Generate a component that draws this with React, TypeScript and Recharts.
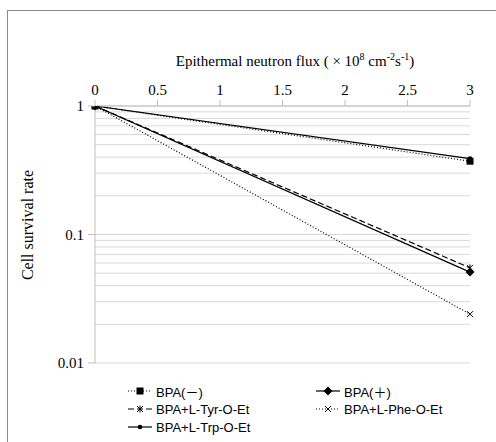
import { LineChart, Line, XAxis, YAxis, CartesianGrid } from 'recharts';

// flux (x 10^8 cm-2 s-1) and survival fractions
const flux = [0, 3];
const bpaMinus = [1, 0.372];
const bpaPlus = [1, 0.051];
const bpaTyr = [1, 0.055];
const bpaPhe = [1, 0.024];
const bpaTrp = [1, 0.39];

const xTicks = [0, 0.5, 1, 1.5, 2, 2.5, 3];
const yGrid = [
  0.01, 0.02, 0.03, 0.04, 0.05, 0.06, 0.07, 0.08, 0.09,
  0.1, 0.2, 0.3, 0.4, 0.5, 0.6, 0.7, 0.8, 0.9, 1,
];

const data = flux.map((x, i) => ({
  x,
  minus: bpaMinus[i],
  plus: bpaPlus[i],
  tyr: bpaTyr[i],
  phe: bpaPhe[i],
  trp: bpaTrp[i],
}));

const SERIF = "'Liberation Serif', 'Times New Roman', serif";

type Marker = 'square' | 'diamond' | 'star' | 'cross' | 'dot';

function drawMarker(kind: Marker, cx: number, cy: number, key?: string) {
  switch (kind) {
    case 'square':
      return <rect key={key} x={cx - 3.5} y={cy - 3.5} width={7} height={7} fill="#000" />;
    case 'diamond':
      return <polygon key={key} points={`${cx},${cy - 4.5} ${cx + 4.5},${cy} ${cx},${cy + 4.5} ${cx - 4.5},${cy}`} fill="#000" />;
    case 'star':
      return (
        <g key={key} stroke="#000" strokeWidth={1}>
          <line x1={cx - 3} y1={cy - 3} x2={cx + 3} y2={cy + 3} />
          <line x1={cx - 3} y1={cy + 3} x2={cx + 3} y2={cy - 3} />
          <line x1={cx} y1={cy - 3.5} x2={cx} y2={cy + 3.5} />
        </g>
      );
    case 'cross':
      return (
        <g key={key} stroke="#000" strokeWidth={1}>
          <line x1={cx - 3} y1={cy - 3} x2={cx + 3} y2={cy + 3} />
          <line x1={cx - 3} y1={cy + 3} x2={cx + 3} y2={cy - 3} />
        </g>
      );
    default:
      return <circle key={key} cx={cx} cy={cy} r={2.3} fill="#000" />;
  }
}

const series: Array<{ key: string; name: string; dash?: string; marker: Marker }> = [
  { key: 'phe', name: 'BPA+L-Phe-O-Et', dash: '1 2', marker: 'cross' },
  { key: 'tyr', name: 'BPA+L-Tyr-O-Et', dash: '6 3', marker: 'star' },
  { key: 'plus', name: 'BPA(＋)', marker: 'diamond' },
  { key: 'trp', name: 'BPA+L-Trp-O-Et', marker: 'dot' },
  { key: 'minus', name: 'BPA(－)', dash: '1 2', marker: 'square' },
];

const legendLayout: Array<{ key: string; left: number; top: number }> = [
  { key: 'minus', left: 128, top: 391 },
  { key: 'plus', left: 316, top: 391 },
  { key: 'tyr', left: 128, top: 409 },
  { key: 'phe', left: 316, top: 409 },
  { key: 'trp', left: 128, top: 427 },
];

function isDecade(v: number) {
  const l = Math.log10(v);
  return Math.abs(l - Math.round(l)) < 1e-9;
}

function YTick(props: any) {
  const { x, y, payload } = props;
  if (!isDecade(payload.value)) return null;
  return (
    <g>
      <line x1={x - 7} y1={y} x2={x} y2={y} stroke="#bfbfbf" />
      <text x={x - 11} y={y} dy={5} textAnchor="end" fontFamily={SERIF} fontSize={15} fill="#000">
        {String(payload.value)}
      </text>
    </g>
  );
}

function XTick(props: any) {
  const { x, payload } = props;
  return (
    <text x={x} y={95} textAnchor="middle" fontFamily={SERIF} fontSize={15} fill="#000">
      {String(payload.value)}
    </text>
  );
}

function XTitle() {
  return (
    <text x={295} y={66} textAnchor="middle" fontFamily={SERIF} fontSize={15} fill="#000">
      Epithermal neutron flux ( × 10
      <tspan fontSize={10} dy={-6}>8</tspan>
      <tspan dy={6}> cm</tspan>
      <tspan fontSize={10} dy={-6}>-2</tspan>
      <tspan dy={6}>s</tspan>
      <tspan fontSize={10} dy={-6}>-1</tspan>
      <tspan dy={6}>)</tspan>
    </text>
  );
}

function YTitle() {
  return (
    <text x={33} y={225} transform="rotate(-90 33 225)" textAnchor="middle" fontFamily={SERIF} fontSize={16} fill="#000">
      Cell survival rate
    </text>
  );
}

export default function App() {
  return (
    <div style={{ position: 'fixed', left: 0, top: 0, width: 496, height: 442, overflow: 'hidden', background: '#fff' }}>
      <div style={{ position: 'absolute', left: 7, top: 10, width: 600, height: 600, border: '1.5px solid #8a8a8a' }} />
      <div style={{ position: 'absolute', left: 0, top: 0 }}>
        <LineChart width={496} height={442} data={data} margin={{ top: 0, right: 26, bottom: 79, left: 0 }}>
          <CartesianGrid vertical={false} stroke="#d9d9d9" />
          <XAxis
            dataKey="x"
            type="number"
            orientation="top"
            domain={[0, 3]}
            ticks={xTicks}
            height={106}
            axisLine={{ stroke: '#bfbfbf' }}
            tickLine={{ stroke: '#bfbfbf' }}
            tickSize={6}
            tickMargin={3}
            tick={<XTick />}
            label={<XTitle />}
          />
          <YAxis
            type="number"
            scale="log"
            domain={[0.01, 1]}
            ticks={yGrid}
            allowDataOverflow
            width={95}
            interval={0}
            axisLine={{ stroke: '#bfbfbf' }}
            tickLine={false}
            tickSize={0}
            tickMargin={0}
            tick={<YTick />}
            label={<YTitle />}
          />
          {series.map((s) => (
            <Line
              key={s.key}
              dataKey={s.key}
              name={s.name}
              stroke="#000"
              strokeWidth={1.2}
              strokeDasharray={s.dash}
              isAnimationActive={false}
              dot={(p: any) => drawMarker(s.marker, p.cx, p.cy, `${s.key}-${p.index}`)}
              activeDot={false}
            />
          ))}
        </LineChart>
      </div>
      {legendLayout.map((l) => {
        const s = series.find((q) => q.key === l.key)!;
        return (
          <div
            key={l.key}
            style={{
              position: 'absolute',
              left: l.left,
              top: l.top - 9,
              height: 18,
              display: 'flex',
              alignItems: 'center',
              fontFamily: "'Liberation Sans', 'Noto Sans CJK JP', sans-serif",
              fontSize: 13,
              color: '#000',
              whiteSpace: 'nowrap',
            }}
          >
            <svg width={25} height={12} style={{ marginRight: 3 }}>
              <line x1={0} y1={6} x2={24} y2={6} stroke="#000" strokeWidth={1.2} strokeDasharray={s.dash} />
              {drawMarker(s.marker, 12, 6)}
            </svg>
            {s.name}
          </div>
        );
      })}
    </div>
  );
}
